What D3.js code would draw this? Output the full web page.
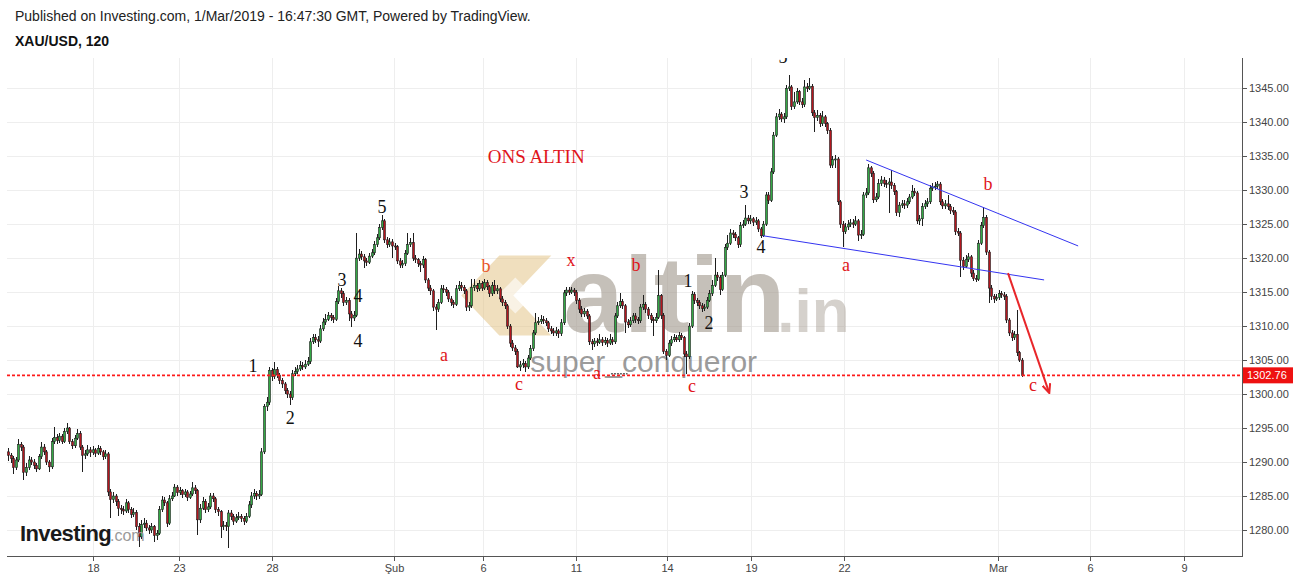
<!DOCTYPE html>
<html><head><meta charset="utf-8">
<script src="https://cdn.jsdelivr.net/npm/d3@7"></script>
<style>body{margin:0;background:#fff;overflow:hidden}svg{display:block}</style>
</head><body>
<svg id="chart" width="1299" height="580"></svg>
<script>
// ---- data (2h XAU/USD candles) ----
const firstOpen = 1291.5;
const closes = [
1291.0,1290.5,1289.2,1290.3,1292.6,1292.2,1288.5,1289.2,1290.3,1290.0,
1289.5,1289.0,1290.8,1292.2,1291.5,1290.0,1289.3,1293.0,1293.6,1293.2,
1293.8,1293.0,1294.5,1295.0,1293.0,1292.4,1293.5,1294.2,1292.2,1291.0,
1291.2,1291.8,1291.4,1291.8,1291.3,1292.0,1291.5,1290.8,1291.2,1285.6,
1284.5,1285.0,1284.2,1283.2,1283.0,1282.8,1284.0,1283.0,1282.3,1282.6,
1280.5,1279.0,1280.8,1281.0,1280.3,1280.0,1280.5,1279.2,1279.5,1283.0,
1284.4,1284.0,1281.0,1284.6,1285.0,1286.3,1285.5,1285.8,1285.2,1285.6,
1284.8,1285.3,1286.2,1285.8,1281.5,1283.2,1284.2,1283.0,1283.4,1285.0,
1284.6,1283.0,1282.7,1280.5,1280.7,1280.5,1282.5,1282.0,1281.3,1281.8,
1282.0,1281.7,1281.3,1282.0,1283.7,1285.0,1285.4,1285.0,1285.2,1291.5,
1298.2,1298.8,1303.5,1302.6,1303.6,1302.8,1302.0,1301.5,1300.5,1300.0,
1299.5,1303.0,1303.3,1303.7,1304.2,1304.0,1304.4,1304.8,1307.7,1308.3,
1308.0,1307.8,1309.6,1310.6,1311.0,1311.6,1311.3,1311.0,1313.6,1315.2,
1314.8,1313.5,1313.8,1311.8,1311.2,1311.6,1320.0,1320.6,1320.2,1319.6,
1319.4,1320.3,1320.8,1322.0,1323.0,1324.5,1325.5,1322.7,1322.0,1322.4,
1321.8,1321.7,1319.6,1319.0,1319.2,1320.7,1322.0,1322.3,1320.0,1319.8,
1319.2,1319.0,1319.8,1316.8,1315.6,1315.2,1312.8,1312.5,1313.5,1315.5,
1315.4,1315.0,1314.0,1313.5,1313.2,1315.5,1316.0,1315.7,1315.2,1312.8,
1313.0,1315.7,1316.0,1315.5,1316.3,1315.6,1316.4,1315.8,1314.8,1316.0,
1315.2,1315.5,1314.0,1313.5,1313.0,1310.0,1307.5,1306.8,1306.3,1304.0,
1304.3,1304.5,1304.0,1305.3,1306.7,1309.0,1310.5,1310.7,1311.0,1310.8,
1310.5,1309.6,1309.3,1309.0,1309.3,1308.9,1310.5,1314.9,1315.3,1315.0,
1315.3,1315.0,1313.8,1312.5,1311.8,1312.2,1311.5,1307.7,1307.4,1307.8,
1307.6,1308.0,1307.6,1307.9,1307.5,1308.0,1307.7,1311.5,1313.0,1313.6,
1313.0,1310.6,1310.2,1310.8,1311.5,1311.0,1310.8,1312.8,1313.2,1312.5,
1311.6,1311.0,1310.8,1311.3,1314.5,1311.6,1306.3,1305.7,1307.5,1308.0,
1308.3,1308.0,1308.6,1308.3,1305.9,1305.5,1310.0,1314.7,1313.8,1313.5,
1313.0,1312.6,1312.8,1313.8,1314.8,1316.0,1317.5,1317.2,1315.4,1317.5,
1321.6,1322.2,1323.7,1323.5,1323.0,1322.0,1324.8,1325.0,1325.9,1325.5,
1325.8,1325.3,1325.5,1324.3,1323.3,1325.0,1329.3,1328.5,1332.7,1338.1,
1340.8,1341.2,1340.5,1340.8,1345.0,1345.2,1342.3,1343.0,1344.5,1343.0,
1342.6,1345.2,1345.0,1345.3,1341.4,1340.7,1341.0,1339.8,1340.8,1339.8,
1338.8,1333.7,1334.5,1334.6,1328.3,1325.0,1323.9,1324.6,1325.0,1325.2,
1325.0,1325.5,1323.4,1323.5,1329.3,1329.6,1333.3,1332.5,1328.6,1329.0,
1331.0,1331.5,1331.0,1330.9,1331.2,1330.7,1329.8,1326.7,1327.8,1328.0,
1327.8,1328.3,1329.0,1329.8,1329.6,1325.5,1325.8,1327.6,1328.0,1328.3,
1330.3,1330.5,1330.6,1330.9,1328.3,1327.7,1328.0,1327.6,1327.0,1326.8,
1323.9,1323.7,1319.7,1318.8,1319.8,1320.2,1317.8,1317.0,1316.9,1322.2,
1324.8,1326.0,1320.9,1315.6,1314.4,1314.0,1314.2,1314.8,1314.6,1314.4,
1310.9,1309.0,1308.3,1308.8,1306.1,1305.0,1302.76];
const highs = [
1292.0,1291.4,1290.9,1290.8,1293.4,1293.0,1292.5,1289.8,1290.9,1290.8,
1290.4,1289.9,1291.2,1293.0,1292.6,1291.8,1290.3,1293.5,1295.2,1294.2,
1294.3,1294.1,1295.0,1295.7,1295.2,1293.4,1294.0,1294.8,1294.5,1292.5,
1291.8,1292.5,1292.2,1292.3,1292.1,1292.5,1292.3,1291.8,1291.7,1291.5,
1286.0,1285.6,1285.3,1284.5,1283.7,1283.5,1284.6,1284.3,1283.4,1283.2,
1282.9,1281.0,1281.5,1281.7,1281.4,1280.8,1281.0,1280.8,1280.0,1283.5,
1285.0,1284.9,1284.3,1285.1,1285.6,1286.8,1286.6,1286.3,1286.1,1286.1,
1285.9,1285.8,1287.0,1286.6,1286.1,1283.8,1284.8,1284.5,1283.9,1285.5,
1285.4,1284.9,1283.4,1283.0,1281.3,1281.2,1283.0,1283.0,1282.4,1282.4,
1282.6,1282.4,1282.1,1282.5,1284.2,1285.6,1286.0,1285.8,1285.9,1292.0,
1298.6,1299.6,1304.0,1303.9,1304.7,1304.0,1303.1,1302.4,1301.8,1300.9,
1300.4,1303.5,1304.0,1304.3,1304.8,1304.7,1305.0,1305.4,1308.2,1308.9,
1308.8,1308.5,1310.1,1311.2,1311.8,1312.1,1312.0,1311.7,1314.1,1315.9,
1315.6,1315.1,1314.3,1314.1,1312.3,1312.2,1323.7,1321.4,1321.1,1320.6,
1320.0,1320.8,1321.4,1322.5,1323.6,1325.0,1326.4,1325.8,1323.1,1322.9,
1322.8,1322.3,1322.0,1320.0,1319.8,1321.2,1323.7,1323.0,1323.7,1320.5,
1320.1,1319.6,1320.3,1320.1,1317.1,1316.0,1315.5,1313.2,1314.0,1316.0,
1316.1,1315.8,1315.3,1314.4,1313.9,1316.0,1316.6,1316.5,1316.1,1315.5,
1313.6,1317.0,1317.0,1316.4,1316.8,1316.7,1317.0,1316.8,1316.1,1316.5,
1316.8,1316.0,1315.8,1314.4,1313.9,1313.3,1310.3,1307.9,1307.2,1306.6,
1304.9,1305.1,1304.9,1305.8,1307.2,1309.5,1312.0,1311.3,1311.6,1311.5,
1311.2,1310.8,1310.0,1309.7,1309.9,1309.6,1311.0,1315.3,1315.8,1315.8,
1315.8,1315.6,1315.3,1314.1,1312.9,1312.7,1312.5,1311.8,1308.1,1308.3,
1308.2,1308.8,1308.4,1308.4,1308.2,1308.8,1308.4,1312.0,1313.6,1314.9,
1314.0,1313.3,1311.0,1311.3,1312.0,1311.9,1311.4,1313.3,1314.6,1313.6,
1312.8,1312.0,1311.4,1311.9,1318.3,1314.8,1311.9,1306.7,1308.0,1308.6,
1308.9,1308.7,1309.2,1309.0,1308.6,1306.3,1310.5,1315.2,1315.0,1314.2,
1313.9,1313.4,1313.3,1314.3,1315.3,1316.8,1320.0,1318.0,1317.5,1318.0,
1322.1,1323.4,1324.3,1324.2,1323.9,1323.3,1325.3,1325.6,1327.8,1326.4,
1326.3,1326.1,1326.0,1325.8,1324.6,1325.5,1329.8,1329.7,1333.2,1338.6,
1341.4,1341.9,1341.5,1341.4,1345.5,1347.0,1345.5,1344.5,1345.0,1344.8,
1343.5,1346.2,1345.8,1346.5,1345.6,1341.8,1341.8,1341.3,1341.6,1341.1,
1340.1,1339.1,1335.1,1335.2,1334.9,1328.6,1325.4,1325.2,1325.6,1325.8,
1325.7,1326.2,1325.8,1324.1,1329.8,1330.3,1333.8,1333.6,1332.8,1329.6,
1331.6,1332.1,1331.9,1331.5,1331.8,1333.0,1331.0,1330.1,1328.3,1328.6,
1328.5,1328.9,1329.5,1330.7,1330.3,1329.9,1326.4,1328.1,1328.6,1328.9,
1330.8,1331.1,1331.2,1331.4,1331.2,1328.7,1328.6,1329.3,1328.0,1327.5,
1327.1,1324.4,1324.0,1320.2,1320.4,1320.8,1320.5,1318.2,1317.5,1322.7,
1325.3,1327.5,1326.3,1321.2,1316.0,1314.8,1314.8,1315.3,1315.2,1315.0,
1314.7,1311.2,1309.4,1309.3,1312.4,1306.4,1305.3];
const lows = [
1290.2,1289.8,1288.2,1288.9,1290.0,1291.6,1287.4,1288.0,1288.8,1289.5,
1289.0,1288.5,1288.8,1290.5,1291.0,1289.5,1288.5,1289.0,1292.6,1292.7,
1292.8,1292.6,1292.8,1294.1,1292.6,1291.9,1292.1,1293.2,1291.8,1288.5,
1290.4,1290.9,1290.8,1291.0,1290.8,1291.0,1291.1,1290.3,1290.4,1285.0,
1281.8,1284.0,1283.6,1282.0,1282.4,1282.2,1282.5,1282.5,1281.8,1281.9,
1280.0,1277.5,1278.7,1280.3,1279.8,1279.4,1279.6,1278.3,1278.6,1279.2,
1282.7,1283.5,1280.5,1280.7,1284.2,1284.8,1285.0,1285.1,1284.7,1284.9,
1284.3,1284.5,1285.0,1285.3,1279.3,1281.0,1282.9,1282.5,1282.6,1283.1,
1284.1,1282.5,1282.0,1278.8,1280.0,1279.9,1277.3,1281.5,1280.8,1281.0,
1281.4,1281.2,1280.8,1281.0,1281.7,1283.3,1284.6,1284.4,1284.6,1285.0,
1291.2,1297.5,1298.4,1302.0,1302.2,1302.3,1301.5,1300.9,1300.0,1299.4,
1298.4,1299.2,1302.6,1303.0,1303.4,1303.6,1303.7,1304.1,1304.5,1307.3,
1307.5,1307.0,1307.5,1309.3,1310.2,1310.7,1310.8,1310.5,1310.7,1313.3,
1314.2,1313.0,1313.1,1310.8,1309.9,1310.7,1311.3,1319.6,1319.7,1318.6,
1318.9,1319.1,1320.0,1320.5,1321.7,1322.7,1324.2,1322.2,1321.5,1321.6,
1320.0,1321.2,1319.1,1318.5,1318.6,1318.9,1320.4,1321.6,1319.6,1319.3,
1318.7,1318.0,1318.6,1316.3,1315.1,1314.6,1312.3,1309.4,1312.1,1313.2,
1314.9,1314.5,1313.5,1313.0,1312.7,1312.9,1315.1,1315.2,1314.7,1312.2,
1312.3,1312.7,1315.2,1315.0,1315.1,1315.1,1315.3,1315.3,1314.3,1314.5,
1314.8,1314.8,1313.6,1313.0,1312.5,1309.6,1307.0,1306.3,1305.8,1303.8,
1303.4,1303.9,1303.3,1303.7,1305.0,1306.4,1308.7,1310.1,1310.3,1310.3,
1310.0,1309.1,1308.8,1308.5,1308.6,1308.3,1308.6,1310.2,1314.5,1314.6,
1314.7,1314.5,1313.3,1312.0,1311.3,1311.4,1311.0,1307.2,1306.5,1307.0,
1307.1,1307.3,1307.1,1307.2,1307.0,1307.2,1307.2,1307.4,1311.2,1312.7,
1312.5,1309.0,1309.7,1309.9,1310.5,1310.5,1310.3,1310.5,1312.4,1312.0,
1311.1,1310.5,1308.5,1310.4,1311.0,1311.1,1305.9,1305.0,1305.4,1307.1,
1307.7,1307.6,1307.7,1307.9,1305.4,1303.0,1305.2,1309.7,1313.3,1313.0,
1312.5,1312.1,1312.2,1312.5,1313.5,1314.5,1315.7,1316.7,1314.6,1315.1,
1317.2,1321.2,1321.9,1323.0,1322.5,1321.5,1321.7,1324.4,1324.7,1325.0,
1325.1,1324.8,1324.9,1323.8,1322.9,1323.1,1324.7,1328.0,1328.2,1332.4,
1337.8,1340.3,1340.0,1339.9,1340.5,1344.6,1341.8,1341.9,1342.7,1342.5,
1342.1,1342.3,1344.5,1344.7,1340.9,1338.6,1340.2,1339.3,1339.5,1339.3,
1338.3,1333.2,1333.3,1333.3,1327.8,1324.5,1321.6,1323.5,1324.2,1324.6,
1324.5,1324.7,1322.6,1322.8,1323.2,1328.9,1329.3,1332.0,1328.1,1328.2,
1328.7,1330.6,1330.5,1330.3,1326.6,1330.2,1329.3,1326.2,1326.0,1327.4,
1327.3,1327.4,1328.0,1328.7,1329.1,1325.0,1324.9,1324.8,1327.2,1327.6,
1328.0,1329.9,1330.0,1330.2,1327.8,1327.2,1327.3,1327.1,1326.5,1326.3,
1323.4,1323.2,1317.2,1318.3,1318.5,1319.4,1317.3,1316.6,1316.5,1316.6,
1321.9,1324.5,1320.4,1313.4,1313.9,1313.4,1313.7,1313.9,1314.1,1313.9,
1310.4,1308.5,1307.8,1308.0,1305.6,1304.7,1302.5];
const lastPrice = 1302.76;
const priceTicks = [1280,1285,1290,1295,1300,1305,1310,1315,1320,1325,1330,1335,1340,1345];
const dateTickIdx = [33.2,66.6,103.1,150.8,185.5,221.9,257.4,290.2,326.6,386.7,422.5,459.4];
const dateTickLabels = ["18","23","28","Şub","6","11","14","19","22","Mar","6","9"];
// wave annotations: text, bar index, price, colour
const waveText  = ["ONS ALTIN","1","2","3","4","4","5","a","b","c","x","a","b","1","2","c","3","4","5","a","b","c"];
const waveIdx   = [206.3,95.7,110.2,130.5,136.7,136.7,146.1,170.3,186.7,199.6,219.9,230.1,245.3,265.6,273.8,267.2,287.5,294.1,302.7,327.3,382.8,400.4];
const wavePrice = [1335.0,1304.1,1296.5,1316.8,1314.4,1307.8,1327.5,1305.75,1318.9,1301.5,1319.7,1303.1,1319.0,1316.6,1310.5,1301.2,1329.7,1321.6,1349.6,1319.0,1330.9,1301.3];
const waveColor = ["#e0151b","#111","#111","#111","#111","#111","#111","#e0151b","#e8552a","#e0151b","#e0151b","#e0151b","#e0151b","#111","#111","#e0151b","#111","#111","#111","#e0151b","#e0151b","#e0151b"];
// trend lines: [idx0, price0, idx1, price1]
const upperLine = [335.2,1334.45,418.0,1321.8];
const lowerLine = [294.9,1323.3,404.7,1316.8];
const arrowLine = [390.6,1317.8,406.6,1300.3];

// ---- drawing ----
const svg = d3.select("#chart");
const L = 7, R = 1242, T = 58, B = 556;
const x = d3.scaleLinear().domain([-0.4, 482]).range([L, R]);
const y = d3.scaleLinear().domain([1280, 1345]).range([530, 88.3]);
const SANS = "Liberation Sans, Arial, sans-serif";

svg.append("defs").append("clipPath").attr("id","plot")
  .append("rect").attr("x",L).attr("y",T).attr("width",R-L).attr("height",B-T);
svg.select("defs").append("marker").attr("id","arr").attr("viewBox","0 0 10 10")
  .attr("refX",8).attr("refY",5).attr("markerWidth",5).attr("markerHeight",5).attr("orient","auto")
  .append("path").attr("d","M0,1 L9,5 L0,9").attr("fill","none").attr("stroke","#e8262a").attr("stroke-width",2);

// header texts
svg.append("text").attr("x",15).attr("y",21).attr("font-family",SANS)
  .attr("font-size",14).attr("fill","#222")
  .text("Published on Investing.com, 1/Mar/2019 - 16:47:30 GMT, Powered by TradingView.");
svg.append("text").attr("x",15).attr("y",46).attr("font-family",SANS)
  .attr("font-size",14).attr("font-weight","bold").attr("fill","#111").text("XAU/USD, 120");

// grid
const grid = svg.append("g").attr("shape-rendering","crispEdges");
grid.selectAll(".hg").data(priceTicks).join("line")
  .attr("x1",L).attr("x2",R).attr("y1",d=>Math.round(y(d))+0.5).attr("y2",d=>Math.round(y(d))+0.5)
  .attr("stroke","#eeeeee");
grid.selectAll(".vg").data(dateTickIdx).join("line")
  .attr("x1",d=>Math.round(x(d))+0.5).attr("x2",d=>Math.round(x(d))+0.5).attr("y1",T).attr("y2",B)
  .attr("stroke","#eeeeee");

// watermarks
const wm = svg.append("g").attr("clip-path","url(#plot)");
const cx0 = x(188), cy0 = y(1314.5);
wm.append("path")
  .attr("d",`M${cx0-28},${cy0} L${cx0+10},${cy0-40} L${cx0+62},${cy0-40} L${cx0+24},${cy0} L${cx0+62},${cy0+40} L${cx0+10},${cy0+40} Z`)
  .attr("fill","#e2bf7e").attr("opacity",0.5);
wm.append("path")
  .attr("d",`M${cx0+8},${cy0} L${cx0+26},${cy0-18} L${cx0+44},${cy0} L${cx0+26},${cy0+18} Z`)
  .attr("fill","#ffffff").attr("opacity",0.6);
wm.append("text").attr("x",x(217)).attr("y",y(1309.2)).attr("font-family",SANS)
  .attr("font-size",108).attr("font-weight","bold").attr("fill","#a39a8f").attr("opacity",0.62).text("altin");
wm.append("text").attr("x",x(300.5)).attr("y",y(1309.2)).attr("font-family",SANS)
  .attr("font-size",62).attr("font-weight","bold").attr("fill","#a39a8f").attr("opacity",0.45).text(".in");
wm.append("text").attr("x",x(204)).attr("y",y(1303.2)).attr("font-family",SANS)
  .attr("font-size",30).attr("fill","#7a7a7a").attr("opacity",0.75).text("super_conqueror");

// candles
const opens = closes.map((c,i)=> i===0 ? firstOpen : closes[i-1]);
const candles = svg.append("g").attr("clip-path","url(#plot)");
const idx = d3.range(closes.length);
candles.selectAll(".w").data(idx).join("line")
  .attr("x1",i=>Math.round(x(i))+0.5).attr("x2",i=>Math.round(x(i))+0.5)
  .attr("y1",i=>y(highs[i])).attr("y2",i=>y(lows[i]))
  .attr("stroke","#1e1e1e").attr("stroke-width",1).attr("shape-rendering","crispEdges");
candles.selectAll(".b").data(idx).join("rect")
  .attr("x",i=>Math.round(x(i))-0.5).attr("width",2)
  .attr("y",i=>y(Math.max(opens[i],closes[i])))
  .attr("height",i=>Math.max(1,Math.abs(y(opens[i])-y(closes[i]))))
  .attr("fill",i=>closes[i]>=opens[i]?"#33a845":"#b3161e")
  .attr("stroke","#1e1e1e").attr("stroke-width",0.6);

// last price line
svg.append("line").attr("x1",L).attr("x2",R).attr("y1",y(lastPrice)).attr("y2",y(lastPrice))
  .attr("stroke","#ff1a1a").attr("stroke-dasharray","3,2").attr("stroke-width",1.6);

// annotations
const ann = svg.append("g").attr("clip-path","url(#plot)");
ann.selectAll("text").data(waveText.map((t,i)=>i)).join("text")
  .attr("x",i=>x(waveIdx[i])).attr("y",i=>y(wavePrice[i]))
  .attr("text-anchor","middle").attr("dominant-baseline","central")
  .attr("font-family","Liberation Serif, Times New Roman, serif")
  .attr("font-size",i=>i===0?19:18)
  .attr("fill",i=>waveColor[i]).text(i=>waveText[i]);
ann.append("line").attr("x1",x(235.5)).attr("x2",x(242)).attr("y1",y(1303.0)).attr("y2",y(1303.0))
  .attr("stroke","#666").attr("stroke-width",1.5).attr("stroke-dasharray","2,1");
const tl = (a,col,w)=>ann.append("line").attr("x1",x(a[0])).attr("y1",y(a[1])).attr("x2",x(a[2])).attr("y2",y(a[3]))
  .attr("stroke",col).attr("stroke-width",w);
tl(upperLine,"#3434f0",1);
tl(lowerLine,"#3434f0",1);
tl(arrowLine,"#e8262a",2).attr("marker-end","url(#arr)");

// Investing.com logo
const logo = svg.append("g");
logo.append("text").attr("x",20).attr("y",541).attr("font-family",SANS)
  .attr("font-size",22).attr("font-weight","bold").attr("letter-spacing",-0.6).attr("fill","#1a1a1a").text("Investing");
logo.append("text").attr("x",110).attr("y",541).attr("font-family",SANS)
  .attr("font-size",16).attr("fill","#9a9a9a").text(".com");

// axes
const ax = svg.append("g").attr("shape-rendering","crispEdges");
ax.append("line").attr("x1",L).attr("x2",R+0.5).attr("y1",B+0.5).attr("y2",B+0.5).attr("stroke","#555");
ax.append("line").attr("x1",R+0.5).attr("x2",R+0.5).attr("y1",T).attr("y2",B+0.5).attr("stroke","#555");
ax.selectAll(".xt").data(dateTickIdx).join("line")
  .attr("x1",d=>Math.round(x(d))+0.5).attr("x2",d=>Math.round(x(d))+0.5).attr("y1",B).attr("y2",B+5).attr("stroke","#555");
svg.selectAll(".xl").data(dateTickIdx).join("text")
  .attr("x",d=>Math.round(x(d))+0.5).attr("y",572).attr("text-anchor","middle")
  .attr("font-family",SANS).attr("font-size",11).attr("fill","#444")
  .text((d,i)=>dateTickLabels[i]);
ax.selectAll(".yt").data(priceTicks).join("line")
  .attr("x1",R).attr("x2",R+5).attr("y1",d=>Math.round(y(d))+0.5).attr("y2",d=>Math.round(y(d))+0.5).attr("stroke","#555");
svg.selectAll(".yl").data(priceTicks).join("text")
  .attr("x",1249).attr("y",d=>y(d)).attr("dominant-baseline","central")
  .attr("font-family",SANS).attr("font-size",11).attr("fill","#444")
  .text(d=>d3.format(".2f")(d));
svg.append("rect").attr("x",R+1).attr("y",y(lastPrice)-8).attr("width",50).attr("height",16).attr("fill","#ee1111");
svg.append("text").attr("x",1247).attr("y",y(lastPrice)).attr("dominant-baseline","central")
  .attr("font-family",SANS).attr("font-size",11).attr("fill","#fff")
  .text(d3.format(".2f")(lastPrice));
</script>
</body></html>
